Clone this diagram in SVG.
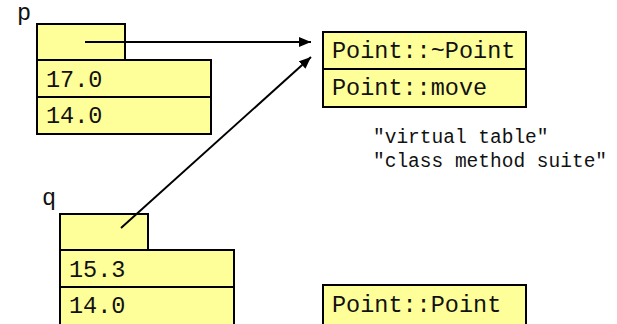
<svg xmlns="http://www.w3.org/2000/svg" width="617" height="324" viewBox="0 0 617 324">
<style>
.box{fill:#FFFF99;stroke:#000;stroke-width:2}
.t{font-family:"Courier New","Liberation Mono",monospace;font-size:23.5px;fill:#111}
.c{font-family:"Courier New","Liberation Mono",monospace;font-size:19.5px;fill:#111}
.con{stroke:#000;stroke-width:2;fill:none}
</style>
<defs>
<marker id="ah" viewBox="0 0 12 10" refX="12" refY="5" markerWidth="12" markerHeight="10" markerUnits="userSpaceOnUse" orient="auto">
<path d="M0,0 L12,5 L0,10 Z" fill="#000"/>
</marker>
</defs>
<g id="p">
<text class="t" x="17" y="20">p</text>
<rect class="box" x="37" y="24" width="88" height="36"/>
<rect class="box" x="37" y="60" width="174" height="37"/>
<rect class="box" x="37" y="97" width="174" height="37"/>
<text class="t" x="46" y="87">17.0</text>
<text class="t" x="46" y="123">14.0</text>
</g>
<g id="q">
<text class="t" x="42" y="205">q</text>
<rect class="box" x="60" y="214" width="88" height="36"/>
<rect class="box" x="60" y="250" width="174" height="37"/>
<rect class="box" x="60" y="287" width="174" height="40"/>
<text class="t" x="69" y="277">15.3</text>
<text class="t" x="69" y="313">14.0</text>
</g>
<g id="vtable">
<rect class="box" x="323" y="32" width="203" height="37"/>
<rect class="box" x="323" y="69" width="203" height="38"/>
<text class="t" x="332" y="58">Point::~Point</text>
<text class="t" x="332" y="95">Point::move</text>
<text class="c" x="373" y="143">"virtual table"</text>
<text class="c" x="373" y="167">"class method suite"</text>
</g>
<g id="ctor">
<rect class="box" x="323" y="285" width="203" height="42"/>
<text class="t" x="332" y="312">Point::Point</text>
</g>
<g id="connectors">
<line class="con" x1="85" y1="42" x2="311" y2="42" marker-end="url(#ah)"/>
<line class="con" x1="121" y1="228" x2="311" y2="57" marker-end="url(#ah)"/>
</g>
</svg>
